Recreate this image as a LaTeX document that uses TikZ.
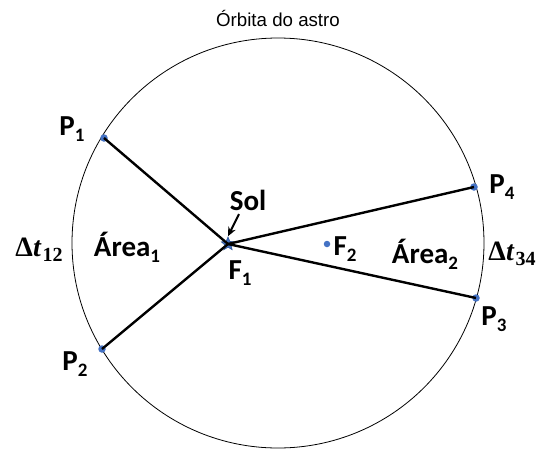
\documentclass[tikz,border=0pt]{standalone}
\usepackage{fontspec}
\usepackage{amsmath,amssymb}
\usepackage{xcolor}
\usepackage{tikz}
\usetikzlibrary{arrows.meta,positioning,calc,shapes.geometric}
\setmainfont{Carlito}
\newfontfamily\titlefont{Liberation Sans}
\newfontfamily\deltafont{Liberation Serif}
\definecolor{dotblue}{HTML}{4472C4}
\definecolor{starblue}{HTML}{2F5597}
\newcommand{\lowidx}[1]{\raisebox{-0.45ex}{\fontsize{19}{19}\selectfont #1}}
\newcommand{\dtidx}[1]{{\deltafont\bfseries Δ\textit{t}\kern1pt\raisebox{-0.35ex}{\fontsize{20}{20}\selectfont\bfseries #1}}}

\begin{document}
\begin{tikzpicture}[x=1pt,y=-1pt,>=Stealth,font=\bfseries\fontsize{29}{32}\selectfont,
  dot/.style={circle,fill=dotblue,inner sep=0pt,minimum size=7.5pt},
  ray/.style={line width=2.4pt},
  lbl/.style={inner sep=0pt}]
\useasboundingbox (0,0) rectangle (555,472);
\draw[line width=0.8pt] (278,243) ellipse [x radius=206, y radius=205];
\node[font=\titlefont\fontsize{18.7}{20}\selectfont] (title) at (278,18) {Órbita do astro};
% pontos da orbita
\node[dot] (p1) at (104,138) {};
\node[dot] (p2) at (102,349) {};
\node[dot] (p3) at (476,298) {};
\node[dot] (p4) at (474,187) {};
\node[dot,minimum size=6.5pt] (f2) at (327,244) {};
\node[star,star points=5,star point ratio=2.2,fill=dotblue,draw=starblue,line width=0.6pt,inner sep=0pt,minimum size=14pt] (sun) at (228,244) {};
\foreach \p in {p1,p2,p3,p4}{
  \draw[ray] (sun.center)--(\p.center);
}
\node[lbl] (p1l) at (72,129) {P\lowidx{1}};
\node[lbl] (p2l) at (75,364) {P\lowidx{2}};
\node[lbl] (p3l) at (494,319) {P\lowidx{3}};
\node[lbl] (p4l) at (502,187) {P\lowidx{4}};
\node[lbl] (f1l) at (240,273) {F\lowidx{1}};
\node[lbl] (f2l) at (345,249) {F\lowidx{2}};
\node[lbl] (a1) at (127,247) {Área\lowidx{1}};
\node[lbl] (a2) at (425,254) {Área\lowidx{2}};
\node[lbl,font=\fontsize{28}{30}\selectfont] (dt1) at (39,250) {\dtidx{12}};
\node[lbl,font=\fontsize{28}{30}\selectfont] (dt2) at (512,254) {\dtidx{34}};
\node[lbl] (sol) at (248,200) {Sol};
\draw[->,line width=2pt,-{Stealth[length=9pt,width=8pt]}] (239,214)--(sun.north);
\end{tikzpicture}
\end{document}
